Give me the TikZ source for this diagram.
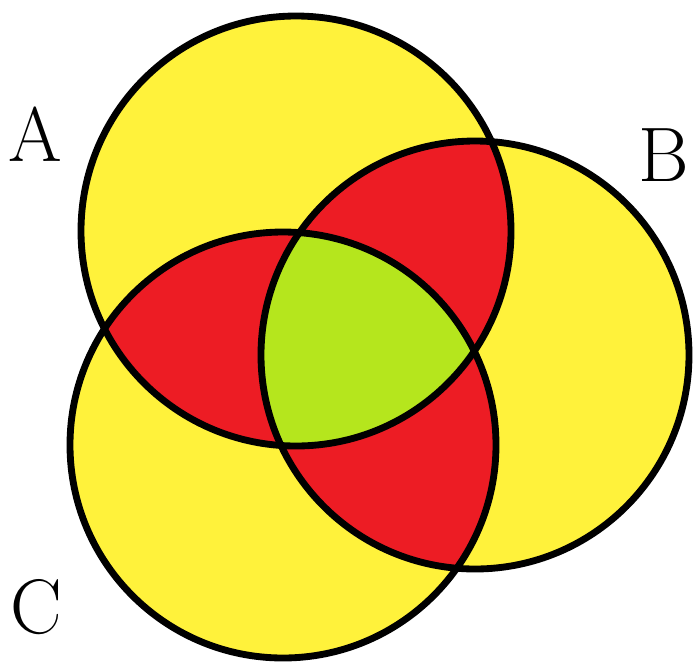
\documentclass[tikz,border=0pt]{standalone}
\usepackage{tikz}
\usepackage{xcolor}

\definecolor{vennyellow}{HTML}{FFF23B}
\definecolor{vennred}{HTML}{ED1C24}
\definecolor{venngreen}{HTML}{B5E61D}

% the three sets, in pixel units (y flipped)
\newcommand{\setA}{(296,-231) circle (215)}
\newcommand{\setB}{(475,-355) circle (214)}
\newcommand{\setC}{(283,-445) circle (213)}

\begin{document}
\begin{tikzpicture}[x=0.02cm, y=0.02cm,
  ring/.style={draw=black, line width=3.9pt},
  setlabel/.style={font=\fontsize{44}{44}\selectfont, inner sep=0pt}]
\useasboundingbox (0,0) rectangle (694,-664);

% base fill
\fill[vennyellow] \setA;
\fill[vennyellow] \setB;
\fill[vennyellow] \setC;

% pairwise overlaps
\begin{scope}
  \clip \setA;
  \fill[vennred] \setB;
  \fill[vennred] \setC;
\end{scope}
\begin{scope}
  \clip \setB;
  \fill[vennred] \setC;
\end{scope}

% all three
\begin{scope}
  \clip \setA;
  \clip \setB;
  \fill[venngreen] \setC;
\end{scope}

% outlines
\draw[ring] \setA;
\draw[ring] \setB;
\draw[ring] \setC;

\node[setlabel] (labA) at (35,-134) {A};
\node[setlabel] (labB) at (664,-155) {B};
\node[setlabel] (labC) at (36,-607) {C};
\end{tikzpicture}
\end{document}
